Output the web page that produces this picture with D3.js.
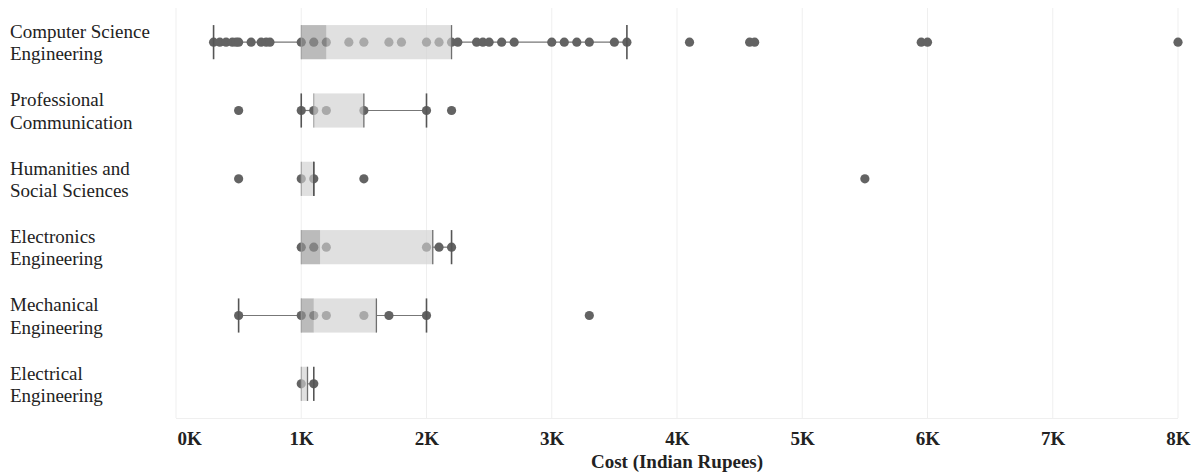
<!DOCTYPE html>
<html>
<head>
<meta charset="utf-8">
<script src="https://cdn.jsdelivr.net/npm/d3@7"></script>
<style>
  body { margin: 0; background: #fff; }
  text { font-family: "Liberation Serif", "Times New Roman", serif; fill: #222; }
</style>
</head>
<body>
<div id="chart"></div>
<script>
// values (Indian Rupees)
var categories = ["Computer Science Engineering", "Professional Communication", "Humanities and Social Sciences",
  "Electronics Engineering", "Mechanical Engineering", "Electrical Engineering"];
var points = [
  [300, 350, 400, 450, 480, 500, 600, 680, 720, 750, 1000, 1100, 1200, 1380, 1500, 1700, 1800, 2000, 2100, 2200, 2250,
   2400, 2450, 2500, 2600, 2700, 3000, 3100, 3200, 3300, 3500, 3600, 4100, 4580, 4620, 5950, 6000, 8000],
  [500, 1000, 1100, 1200, 1500, 2000, 2200],
  [500, 1000, 1100, 1500, 5500],
  [1000, 1100, 1200, 2000, 2100, 2200],
  [500, 1000, 1100, 1200, 1500, 1700, 2000, 3300],
  [1000, 1100]
];
var q1 = [1000, 1100, 1000, 1000, 1000, 1000];
var median = [1200, 1100, 1000, 1150, 1100, 1000];
var q3 = [2200, 1500, 1100, 2050, 1600, 1050];
var whiskerLow = [300, 1000, 1000, 1000, 500, 1000];
var whiskerHigh = [3600, 2000, 1100, 2200, 2000, 1100];
var xTicks = [0, 1000, 2000, 3000, 4000, 5000, 6000, 7000, 8000];
var xTitle = "Cost (Indian Rupees)";

var width = 1198, height = 474;
var margin = {top: 8, right: 20, bottom: 56, left: 176};

var svg = d3.select("#chart").append("svg")
  .attr("width", width)
  .attr("height", height);

var x = d3.scaleLinear().domain([0, 8000]).range([margin.left, width - margin.right]);
var y = d3.scaleBand().domain(categories).range([margin.top, height - margin.bottom]);
var boxH = y.bandwidth() / 2;
var mid = function(i) { return y(categories[i]) + y.bandwidth() / 2; };

// grid
svg.append("g").selectAll("line")
  .data(xTicks).enter().append("line")
  .attr("x1", function(d) { return x(d); })
  .attr("x2", function(d) { return x(d); })
  .attr("y1", margin.top)
  .attr("y2", height - margin.bottom)
  .attr("stroke", "#efefef");
svg.append("line")
  .attr("x1", margin.left).attr("x2", width - margin.right)
  .attr("y1", height - margin.bottom + 0.5).attr("y2", height - margin.bottom + 0.5)
  .attr("stroke", "#efefef");

// x axis
var xAxis = d3.axisBottom(x).tickValues(xTicks).tickSize(0).tickPadding(14)
  .tickFormat(function(d) { return (d / 1000) + "K"; });
var ax = svg.append("g")
  .attr("transform", "translate(0," + (height - margin.bottom) + ")")
  .call(xAxis);
ax.select(".domain").remove();
ax.selectAll("text")
  .style("font-family", '"Liberation Serif", "Times New Roman", serif')
  .style("font-size", "19px")
  .style("font-weight", "bold")
  .attr("fill", "#111");
ax.selectAll(".tick").filter(function(d) { return d === 0; }).select("text")
  .attr("text-anchor", "start").attr("x", 1);

svg.append("text")
  .attr("x", (margin.left + width - margin.right) / 2)
  .attr("y", height - 6)
  .attr("text-anchor", "middle")
  .style("font-size", "19px")
  .style("font-weight", "bold")
  .attr("fill", "#111")
  .text(xTitle);

// y labels, wrapped to two lines
var labels = svg.append("g").selectAll("text")
  .data(categories).enter().append("text")
  .attr("x", 10)
  .attr("y", function(d, i) { return mid(i); })
  .style("font-size", "19px");
labels.each(function(d) {
  var t = d3.select(this), words = d.split(" "), lines = [], cur = [];
  var probe = t.append("tspan");
  words.forEach(function(w) {
    cur.push(w);
    probe.text(cur.join(" "));
    if (probe.node().getComputedTextLength() > 150 && cur.length > 1) {
      cur.pop(); lines.push(cur.join(" ")); cur = [w];
    }
  });
  lines.push(cur.join(" "));
  probe.remove();
  var lh = 22.5, start = -(lines.length - 1) * lh / 2 + 7;
  lines.forEach(function(l, k) {
    t.append("tspan").attr("x", 10).attr("dy", k === 0 ? start : lh).text(l);
  });
});

var rows = svg.append("g").selectAll("g")
  .data(categories).enter().append("g");

// whisker lines, outside the box only
rows.each(function(d, i) {
  var g = d3.select(this);
  [[whiskerLow[i], q1[i]], [q3[i], whiskerHigh[i]]].forEach(function(seg) {
    if (seg[0] === seg[1]) return;
    g.append("line")
      .attr("x1", x(seg[0])).attr("x2", x(seg[1]))
      .attr("y1", mid(i)).attr("y2", mid(i))
      .attr("stroke", "#777")
      .attr("stroke-width", 1.2);
  });
});

// points
rows.each(function(d, i) {
  d3.select(this).selectAll("circle")
    .data(points[i]).enter().append("circle")
    .attr("cx", function(v) { return x(v); })
    .attr("cy", mid(i))
    .attr("r", 4.6)
    .attr("fill", "#636363");
});

// box, drawn over the points
rows.append("rect")
  .attr("x", function(d, i) { return x(median[i]); })
  .attr("width", function(d, i) { return x(q3[i]) - x(median[i]); })
  .attr("y", function(d, i) { return mid(i) - boxH / 2; })
  .attr("height", boxH)
  .attr("fill", "rgb(207,207,207)")
  .attr("fill-opacity", 0.65);
rows.append("rect")
  .attr("x", function(d, i) { return x(q1[i]); })
  .attr("width", function(d, i) { return x(median[i]) - x(q1[i]); })
  .attr("y", function(d, i) { return mid(i) - boxH / 2; })
  .attr("height", boxH)
  .attr("fill", "rgb(150,150,150)")
  .attr("fill-opacity", 0.65);
rows.append("line")
  .attr("x1", function(d, i) { return x(q1[i]); })
  .attr("x2", function(d, i) { return x(q1[i]); })
  .attr("y1", function(d, i) { return mid(i) - boxH / 2; })
  .attr("y2", function(d, i) { return mid(i) + boxH / 2; })
  .attr("stroke", "#9a9a9a");
rows.append("line")
  .attr("x1", function(d, i) { return x(q3[i]); })
  .attr("x2", function(d, i) { return x(q3[i]); })
  .attr("y1", function(d, i) { return mid(i) - boxH / 2; })
  .attr("y2", function(d, i) { return mid(i) + boxH / 2; })
  .attr("stroke", "#6f6f6f")
  .attr("stroke-width", 1.3);

// whisker caps
rows.each(function(d, i) {
  var g = d3.select(this);
  [whiskerLow[i], whiskerHigh[i]].forEach(function(v, k) {
    if ((k === 0 && v === q1[i]) || (k === 1 && v === q3[i] && i !== 2)) return;
    g.append("line")
      .attr("x1", x(v)).attr("x2", x(v))
      .attr("y1", mid(i) - boxH / 2).attr("y2", mid(i) + boxH / 2)
      .attr("stroke", "#555")
      .attr("stroke-width", 1.6);
  });
});
</script>
</body>
</html>
